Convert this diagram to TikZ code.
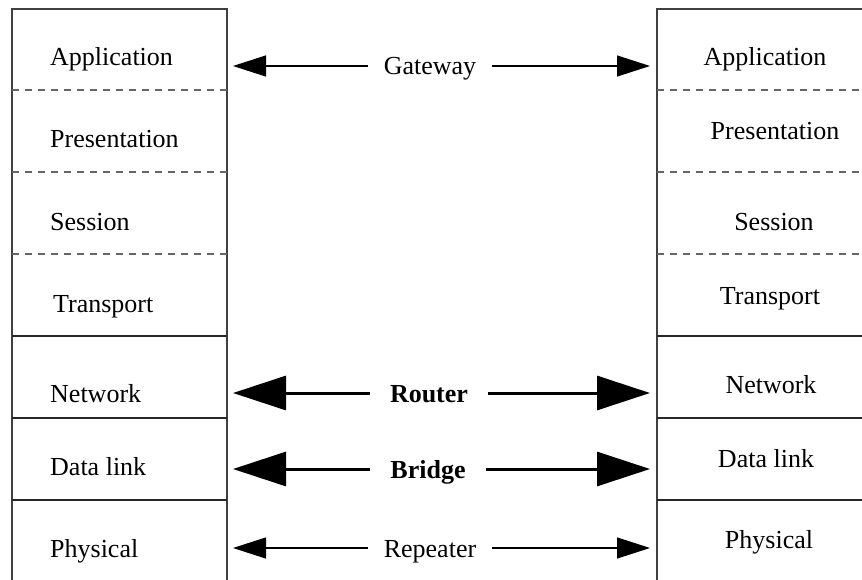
\documentclass[tikz,border=0pt]{standalone}
\usepackage{fontspec}
\setmainfont{Liberation Serif}
\usetikzlibrary{arrows.meta}
\begin{document}
\begin{tikzpicture}[x=1pt,y=-1pt,
  every node/.style={font=\fontsize{26}{30}\selectfont, inner sep=0pt},
  colline/.style={draw=black!75, line width=1.3pt},
  dashline/.style={draw=black!60, line width=1.2pt, dash pattern=on 7pt off 6pt},
  solidline/.style={draw=black!85, line width=1.5pt},
  leftlab/.style={anchor=base west},
  rightlab/.style={anchor=base},
  devlab/.style={text height=18pt, text depth=0pt, inner xsep=16pt, inner ysep=0pt},
  boldlab/.style={devlab, inner xsep=20pt, font=\fontsize{26}{30}\selectfont\bfseries},
  thinarrow/.style={line width=1.2pt, -{Triangle[length=33pt,width=21pt]}},
  thickarrow/.style={line width=3pt, -{Triangle[length=53pt,width=34pt]}}
]
\useasboundingbox (0,0) rectangle (862,580);
% left stack
\draw[colline] (12,580) -- (12,9) -- (227,9) -- (227,580);
\foreach \y in {90,172,254} \draw[dashline] (12,\y) -- (227,\y);
\foreach \y in {336,418,500} \draw[solidline] (12,\y) -- (227,\y);
% right stack
\draw[colline] (862,9) -- (657,9) -- (657,580);
\foreach \y in {90,172,254} \draw[dashline] (657,\y) -- (862,\y);
\foreach \y in {336,418,500} \draw[solidline] (657,\y) -- (862,\y);
% left labels
\node[leftlab] (L1) at (50,66) {Application};
\node[leftlab] (L2) at (50,148) {Presentation};
\node[leftlab] (L3) at (50,230) {Session};
\node[leftlab] (L4) at (53,312) {Transport};
\node[leftlab] (L5) at (50,402) {Network};
\node[leftlab] (L6) at (50,475) {Data link};
\node[leftlab] (L7) at (50,557) {Physical};
% right labels
\node[rightlab] (R1) at (765,66) {Application};
\node[rightlab] (R2) at (775,140) {Presentation};
\node[rightlab] (R3) at (774,230) {Session};
\node[rightlab] (R4) at (770,304) {Transport};
\node[rightlab] (R5) at (771,393) {Network};
\node[rightlab] (R6) at (766,467) {Data link};
\node[rightlab] (R7) at (769,548) {Physical};
% device labels
\node[devlab] (gw) at (430,66) {Gateway};
\node[boldlab] (rt) at (429,393) {Router};
\node[boldlab] (br) at (428,469) {Bridge};
\node[devlab] (rp) at (430,548) {Repeater};
% arrow tips
\coordinate (gwL) at (233,66);  \coordinate (gwR) at (650,66);
\coordinate (rtL) at (233,393); \coordinate (rtR) at (650,393);
\coordinate (brL) at (233,469); \coordinate (brR) at (650,469);
\coordinate (rpL) at (233,548); \coordinate (rpR) at (650,548);
\draw[thinarrow] (gw.west) -- (gwL);
\draw[thinarrow] (gw.east) -- (gwR);
\draw[thickarrow] (rt.west) -- (rtL);
\draw[thickarrow] (rt.east) -- (rtR);
\draw[thickarrow] (br.west) -- (brL);
\draw[thickarrow] (br.east) -- (brR);
\draw[thinarrow] (rp.west) -- (rpL);
\draw[thinarrow] (rp.east) -- (rpR);
\end{tikzpicture}
\end{document}
